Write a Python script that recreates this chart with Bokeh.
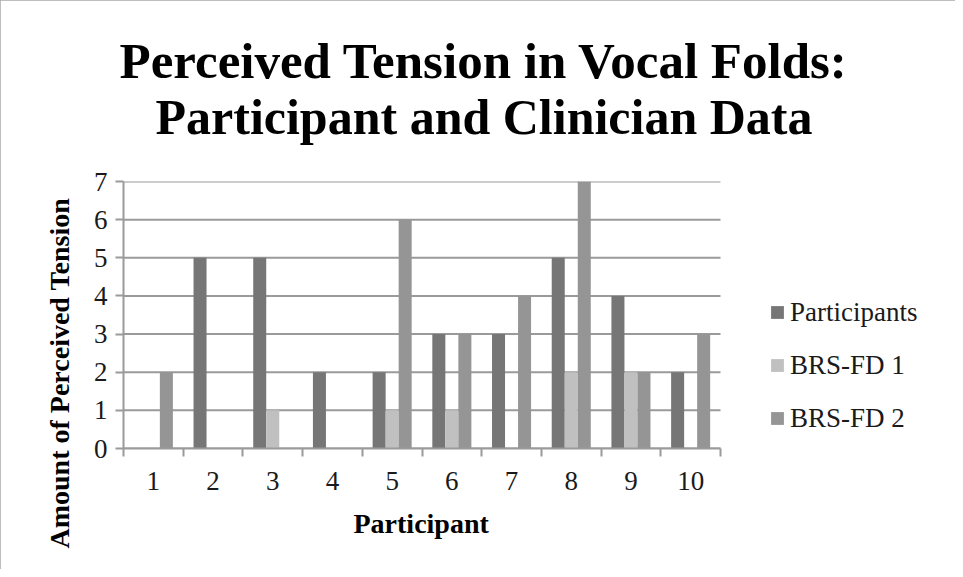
from bokeh.plotting import figure
from bokeh.models import ColumnDataSource, FixedTicker, Legend, LegendItem, Range1d, Title
from bokeh.transform import dodge
from bokeh.embed import file_html
from bokeh.resources import INLINE

# ---- data ----
participant_ids = [1, 2, 3, 4, 5, 6, 7, 8, 9, 10]
participants = [0, 5, 5, 2, 2, 3, 3, 5, 4, 2]
brs_fd1 = [0, 0, 1, 0, 1, 1, 0, 2, 2, 0]
brs_fd2 = [2, 0, 0, 0, 6, 3, 4, 7, 2, 3]
series_names = ["Participants", "BRS-FD 1", "BRS-FD 2"]
y_ticks = [0, 1, 2, 3, 4, 5, 6, 7]
title_lines = ["Perceived Tension in Vocal Folds:", "Participant and Clinician Data"]
x_title = "Participant"
y_title = "Amount of Perceived Tension"

FONT = "Liberation Serif"
GRID = "#9a9a9a"
colors = ["#767676", "#c0c0c0", "#959595"]
bar_w = 0.218

# layout: plotting area 597 px wide, frame extended to the right to hold the legend
W, H = 955, 569
LEFT, TOP, BOTTOM = 123, 181, 121
PLOT_W, FRAME_W = 597, 817
x_start = participant_ids[0] - 0.5
x_stop = participant_ids[-1] + 0.5
x_end = x_start + (x_stop - x_start) * FRAME_W / PLOT_W

src = ColumnDataSource(dict(x=participant_ids, s0=participants, s1=brs_fd1, s2=brs_fd2))
grid_src = ColumnDataSource(dict(y=y_ticks, x0=[x_start] * len(y_ticks), x1=[x_stop] * len(y_ticks)))

p = figure(width=W, height=H, output_backend="svg", toolbar_location=None,
           x_range=Range1d(x_start, x_end), y_range=Range1d(0, max(y_ticks)),
           min_border_left=LEFT, min_border_right=W - LEFT - FRAME_W,
           min_border_top=TOP, min_border_bottom=BOTTOM)
p.outline_line_color = None
p.styles = {"outline": "2px solid #a8a8a8", "outline-offset": "-2px"}
p.xgrid.visible = False
p.ygrid.visible = False

# horizontal grid lines limited to the plotting area
p.segment(x0="x0", x1="x1", y0="y", y1="y", source=grid_src, line_color=GRID, line_width=2)

renderers = []
for i, (col, c) in enumerate(zip(["s0", "s1", "s2"], colors)):
    r = p.vbar(x=dodge("x", (i - 1) * bar_w, range=p.x_range), top=col, bottom=0,
               width=bar_w, source=src, fill_color=c, line_color=None)
    renderers.append(r)

# x axis
minor = [v - 0.5 for v in participant_ids] + [x_stop]
p.xaxis.bounds = (x_start, x_stop)
p.xaxis.ticker = FixedTicker(ticks=participant_ids, minor_ticks=minor)
p.xaxis.major_tick_line_color = None
p.xaxis.minor_tick_in = 0
p.xaxis.minor_tick_out = 8
p.xaxis.minor_tick_line_color = GRID
p.xaxis.minor_tick_line_width = 2
p.xaxis.axis_line_color = GRID
p.xaxis.axis_line_width = 2
p.xaxis.major_label_standoff = 15
p.xaxis.major_label_text_font = FONT
p.xaxis.major_label_text_font_size = "27px"
p.xaxis.major_label_text_color = "#1a1a1a"

# y axis
p.yaxis.ticker = FixedTicker(ticks=y_ticks, minor_ticks=[])
p.yaxis.major_tick_in = 0
p.yaxis.major_tick_out = 8
p.yaxis.major_tick_line_color = GRID
p.yaxis.major_tick_line_width = 2
p.yaxis.axis_line_color = GRID
p.yaxis.axis_line_width = 2
p.yaxis.major_label_standoff = 8
p.yaxis.major_label_text_font = FONT
p.yaxis.major_label_text_font_size = "27px"
p.yaxis.major_label_text_color = "#1a1a1a"

# titles (first added sits closest to the frame)
p.add_layout(Title(text=" ", text_font_size="1px", standoff=34), "above")
p.add_layout(Title(text=title_lines[1], align="left", offset=32, standoff=0,
                   text_font=FONT, text_font_style="bold", text_font_size="50px",
                   text_color="#000000"), "above")
p.add_layout(Title(text=title_lines[0], align="left", offset=-4, standoff=-4,
                   text_font=FONT, text_font_style="bold", text_font_size="51px",
                   text_color="#000000"), "above")
p.add_layout(Title(text=y_title, align="left", offset=-100, standoff=31,
                   text_font=FONT, text_font_style="bold", text_font_size="28px",
                   text_color="#000000"), "left")
p.add_layout(Title(text=x_title, align="left", offset=230, standoff=31,
                   vertical_align="top",
                   text_font=FONT, text_font_style="bold", text_font_size="28px",
                   text_color="#000000"), "below")

legend = Legend(items=[LegendItem(label=n, renderers=[r]) for n, r in zip(series_names, renderers)],
                location=(646, 14), padding=0, margin=0, border_line_color=None,
                background_fill_alpha=0, glyph_width=16, glyph_height=16,
                label_standoff=5, label_height=32, spacing=21,
                label_text_font=FONT, label_text_font_size="27px",
                label_text_color="#1a1a1a")
p.add_layout(legend)

open("out.html", "w").write(file_html(p, INLINE))
